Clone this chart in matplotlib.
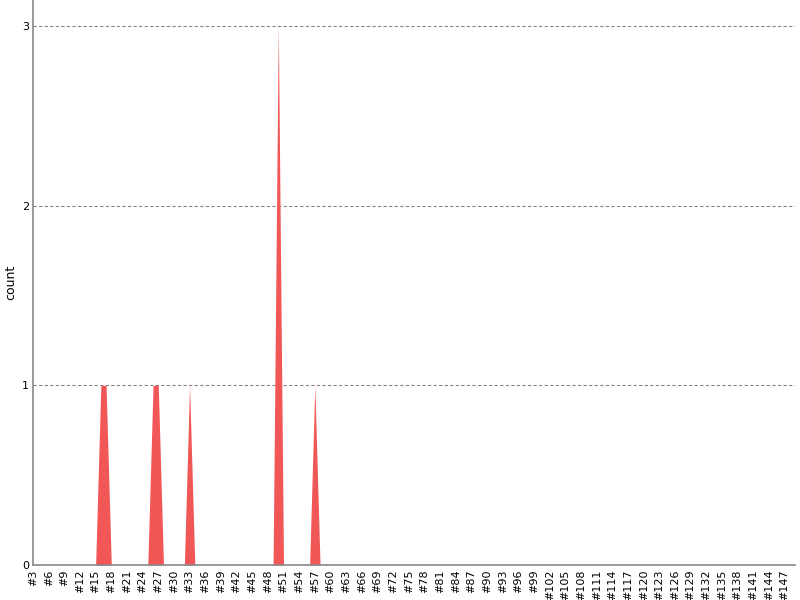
import matplotlib
matplotlib.use("Agg")
import matplotlib.pyplot as plt
import numpy as np

categories = ["#%d" % i for i in range(3, 150)]
counts = [
    0, 0, 0, 0, 0, 0, 0, 0, 0, 0,   # #3-#12
    0, 0, 0, 1, 1, 0, 0, 0, 0, 0,   # #13-#22
    0, 0, 0, 1, 1, 0, 0, 0, 0, 0,   # #23-#32
    1, 0, 0, 0, 0, 0, 0, 0, 0, 0,   # #33-#42
    0, 0, 0, 0, 0, 0, 0, 3, 0, 0,   # #43-#52
    0, 0, 0, 0, 1, 0, 0, 0, 0, 0,   # #53-#62
    0, 0, 0, 0, 0, 0, 0, 0, 0, 0,   # #63-#72
    0, 0, 0, 0, 0, 0, 0, 0, 0, 0,   # #73-#82
    0, 0, 0, 0, 0, 0, 0, 0, 0, 0,   # #83-#92
    0, 0, 0, 0, 0, 0, 0, 0, 0, 0,   # #93-#102
    0, 0, 0, 0, 0, 0, 0, 0, 0, 0,   # #103-#112
    0, 0, 0, 0, 0, 0, 0, 0, 0, 0,   # #113-#122
    0, 0, 0, 0, 0, 0, 0, 0, 0, 0,   # #123-#132
    0, 0, 0, 0, 0, 0, 0, 0, 0, 0,   # #133-#142
    0, 0, 0, 0, 0, 0, 0,            # #143-#149
]
y_ticks = [0, 1, 2, 3]

fig = plt.figure(figsize=(8, 6), dpi=100)
ax = fig.add_axes([33 / 800, 1 - 565 / 600, (795 - 33) / 800, 565 / 600])

x = np.arange(len(categories))
ax.fill_between(x, 0, counts, color="#f25757", linewidth=0)

ax.set_xlim(0, len(categories) - 1)
ax.set_ylim(0, 3.145)

ax.set_yticks(y_ticks)
ax.set_yticklabels([str(v) for v in y_ticks], fontsize=8)
ax.set_xticks(x[::3])
ax.set_xticklabels(categories[::3], rotation=90, fontsize=8)
ax.tick_params(axis="both", length=0, pad=3)

for v in y_ticks[1:]:
    ax.axhline(v, color="#888888", linestyle=(0, (3, 2)), linewidth=0.8, zorder=0)

for side in ["top", "right"]:
    ax.spines[side].set_visible(False)
for side in ["left", "bottom"]:
    ax.spines[side].set_color("#888888")
    ax.spines[side].set_linewidth(1.2)

ax.set_ylabel("count", fontsize=9)
ax.yaxis.set_label_coords(-16 / 762, 0.5)

fig.savefig("out.png", dpi=100)
